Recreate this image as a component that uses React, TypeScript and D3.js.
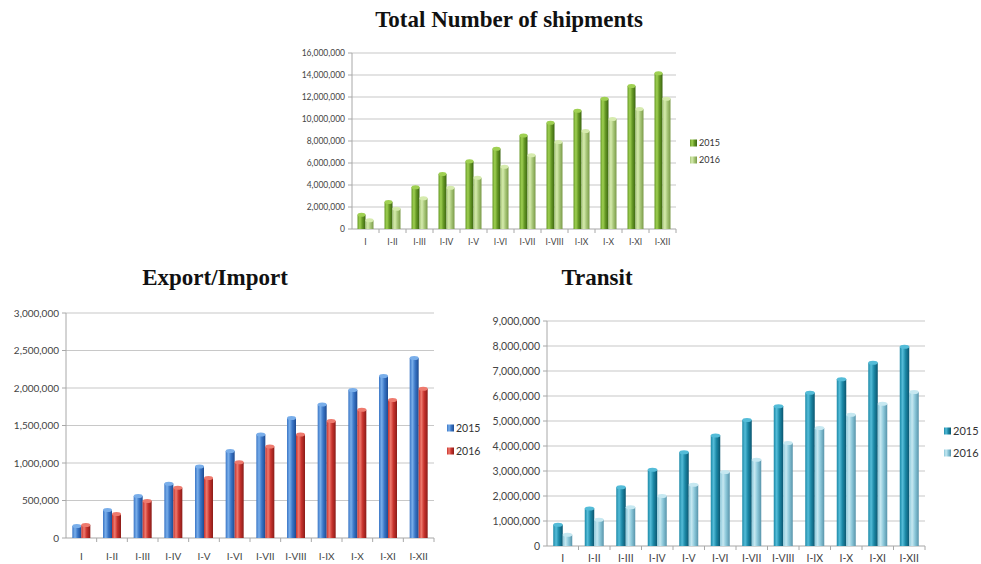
import React from "react";
import * as d3 from "d3";

// periods (cumulative months)
const periods = ["I", "I-II", "I-III", "I-IV", "I-V", "I-VI", "I-VII", "I-VIII", "I-IX", "I-X", "I-XI", "I-XII"];
const years = ["2015", "2016"];

// Total Number of shipments
const total2015 = [1300000, 2450000, 3800000, 5000000, 6150000, 7300000, 8500000, 9650000, 10750000, 11850000, 13000000, 14150000];
const total2016 = [800000, 1850000, 2800000, 3750000, 4650000, 5650000, 6700000, 7900000, 8900000, 10000000, 10900000, 11850000];

// Export/Import
const expimp2015 = [160000, 375000, 560000, 725000, 955000, 1160000, 1380000, 1600000, 1780000, 1975000, 2160000, 2400000];
const expimp2016 = [175000, 320000, 495000, 670000, 800000, 1010000, 1220000, 1380000, 1560000, 1710000, 1840000, 1990000];

// Transit
const transit2015 = [850000, 1500000, 2350000, 3050000, 3750000, 4420000, 5040000, 5590000, 6130000, 6670000, 7330000, 7970000];
const transit2016 = [450000, 1050000, 1550000, 2000000, 2450000, 2960000, 3450000, 4120000, 4720000, 5250000, 5690000, 6160000];

interface Palette {
  dark: string;
  base: string;
  light: string;
}

const palettes: Record<string, Palette> = {
  g15: { dark: "#3b6510", base: "#679a26", light: "#9fd052" },
  g16: { dark: "#7a9a48", base: "#a9c87a", light: "#d6ebae" },
  b15: { dark: "#1d4b92", base: "#3a76c6", light: "#79aeea" },
  r16: { dark: "#8a1c18", base: "#c8332d", light: "#ee7a6e" },
  t15: { dark: "#0b5670", base: "#1c89a7", light: "#54bcd8" },
  t16: { dark: "#5894aa", base: "#8cc8da", light: "#c6e8f1" },
};

function Gradients() {
  return (
    <defs>
      {Object.entries(palettes).map(([k, p]) => (
        <linearGradient key={k} id={`grad-${k}`} x1="0%" y1="0%" x2="100%" y2="0%">
          <stop offset="0%" stopColor={p.base} />
          <stop offset="30%" stopColor={p.light} />
          <stop offset="60%" stopColor={p.base} />
          <stop offset="100%" stopColor={p.dark} />
        </linearGradient>
      ))}
    </defs>
  );
}

interface ChartProps {
  title: string;
  titleX: number;
  titleY: number;
  x0: number;
  x1: number;
  yTop: number;
  yBottom: number;
  max: number;
  step: number;
  barW: number;
  fontSize: number;
  catY: number;
  series: number[][];
  keys: string[];
  legendX: number;
  legendY: number[];
}

function BarChart(p: ChartProps) {
  const fmt = d3.format(",");
  const y = d3.scaleLinear().domain([0, p.max]).range([p.yBottom, p.yTop]);
  const x = d3.scaleBand().domain(periods).range([p.x0, p.x1]);
  const ticks = d3.range(0, p.max + 1, p.step);
  const font = "Lato, 'Open Sans', sans-serif";
  return (
    <g>
      <text x={p.titleX} y={p.titleY} textAnchor="middle" fontFamily="'Liberation Serif', 'Times New Roman', serif"
        fontWeight="bold" fontSize={23} fill="#111">{p.title}</text>
      {ticks.map((t) => (
        <g key={t}>
          <line x1={p.x0} x2={p.x1} y1={y(t)} y2={y(t)} stroke={t === 0 ? "#a8a8a8" : "#c8c8c8"} strokeWidth={1.2} />
          <line x1={p.x0 - 4} x2={p.x0} y1={y(t)} y2={y(t)} stroke="#a8a8a8" />
          <text x={p.x0 - 7} y={y(t)} dy="0.35em" textAnchor="end" fontFamily={font} fontSize={p.fontSize} fill="#444">
            {fmt(t)}
          </text>
        </g>
      ))}
      <line x1={p.x0} x2={p.x0} y1={p.yTop} y2={p.yBottom} stroke="#a8a8a8" />
      {periods.map((c) => (
        <line key={c} x1={x(c)! + x.bandwidth()} x2={x(c)! + x.bandwidth()} y1={p.yBottom} y2={p.yBottom + 4} stroke="#a8a8a8" />
      ))}
      {periods.map((c) => (
        <text key={c} x={x(c)! + x.bandwidth() / 2} y={p.catY} dy="0.35em" textAnchor="middle" fontFamily={font}
          fontSize={p.fontSize} fill="#444">{c}</text>
      ))}
      {p.series.map((vals, si) =>
        vals.map((v, i) => {
          const bx = x(periods[i])! + x.bandwidth() / 2 - p.barW + si * p.barW;
          const top = y(v);
          const pal = palettes[p.keys[si]];
          return (
            <g key={`${si}-${i}`}>
              <rect x={bx} y={top} width={p.barW} height={p.yBottom - top} fill={`url(#grad-${p.keys[si]})`} />
              <ellipse cx={bx + p.barW / 2} cy={top} rx={p.barW / 2} ry={2} fill={pal.light} />
            </g>
          );
        })
      )}
      {years.map((yr, i) => (
        <g key={yr}>
          <rect x={p.legendX} y={p.legendY[i] - 3.5} width={7} height={7} fill={`url(#grad-${p.keys[i]})`} />
          <text x={p.legendX + 9} y={p.legendY[i]} dy="0.35em" fontFamily={font} fontSize={p.fontSize + 0.5} fill="#333">{yr}</text>
        </g>
      ))}
    </g>
  );
}

export default function App() {
  return (
    <svg width={981} height={564} style={{ position: "absolute", left: 0, top: 0, background: "#fff" }}>
      <Gradients />
      <BarChart title="Total Number of shipments" titleX={509} titleY={27} x0={352} x1={676} yTop={53} yBottom={229}
        max={16000000} step={2000000} barW={8} fontSize={8.5} catY={242} series={[total2015, total2016]}
        keys={["g15", "g16"]} legendX={690} legendY={[143, 160]} />
      <BarChart title="Export/Import" titleX={215} titleY={285} x0={66} x1={434} yTop={313} yBottom={538}
        max={3000000} step={500000} barW={9} fontSize={10} catY={556} series={[expimp2015, expimp2016]}
        keys={["b15", "r16"]} legendX={447} legendY={[428, 451]} />
      <BarChart title="Transit" titleX={597} titleY={285} x0={547} x1={925} yTop={321} yBottom={546}
        max={9000000} step={1000000} barW={9.5} fontSize={10.5} catY={558} series={[transit2015, transit2016]}
        keys={["t15", "t16"]} legendX={944} legendY={[431, 453]} />
    </svg>
  );
}
